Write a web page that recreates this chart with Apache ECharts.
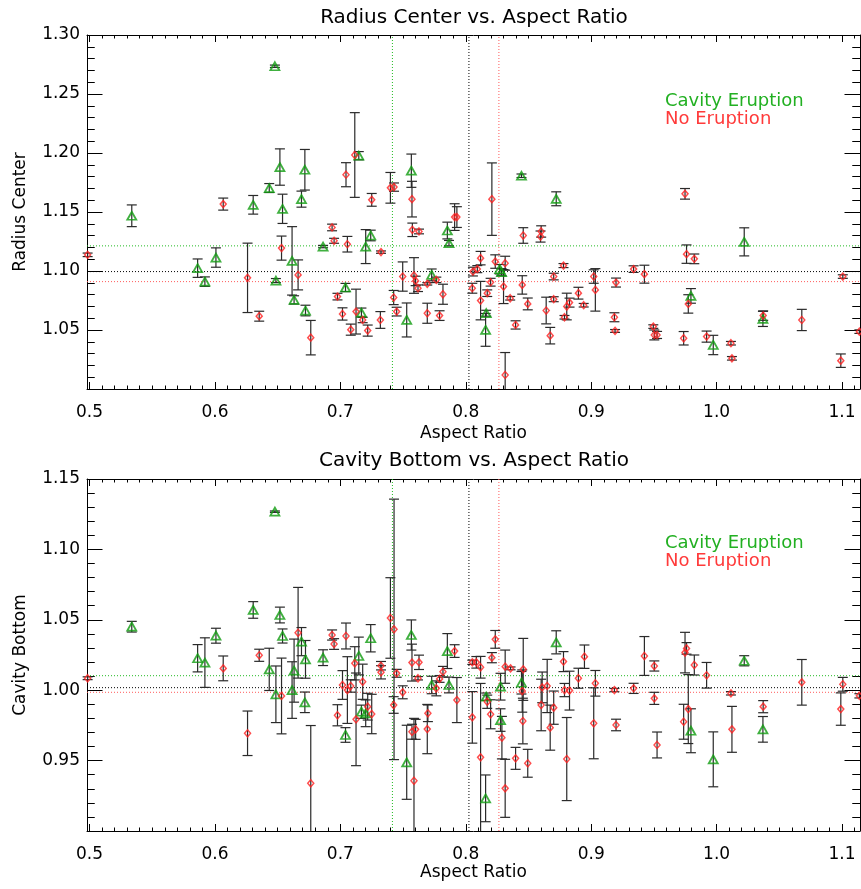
<!DOCTYPE html>
<html lang="en">
<head>
    <meta charset="UTF-8">
    <title>Radius Center / Cavity Bottom vs. Aspect Ratio</title>
    <script src="https://cdn.jsdelivr.net/npm/echarts@6/dist/echarts.min.js"></script>
    <style>
        html, body {margin: 0; padding: 0; background: #fff;}
        #chart {width: 861px; height: 889px;}
    </style>
</head>
<body>
<div id="chart"></div>
<script type="text/javascript">

    // axis ranges and tick labels
    var xRange = [0.498, 1.1143];
    var rcRange = [1.00, 1.30];
    var cbRange = [0.90, 1.15];
    var xTicks = [0.5, 0.6, 0.7, 0.8, 0.9, 1.0, 1.1];
    var rcTicks = [1.05, 1.10, 1.15, 1.20, 1.25, 1.30];
    var cbTicks = [0.95, 1.00, 1.05, 1.10, 1.15];

    // mean lines: [all, eruption, no eruption]
    var meanAspect = [0.8025, 0.7415, 0.8264];
    var meanRc = [1.0995, 1.1213, 1.0910];
    var meanCb = [1.0018, 1.0103, 0.9985];

    // [aspect ratio, radius center, error] - cavity eruption
    var rcErupt = [
        [0.5337, 1.1468, 0.0092], [0.5862, 1.1024, 0.0078], [0.5920, 1.0910, 0.0040], [0.6008, 1.1114, 0.0082],
        [0.6305, 1.1561, 0.0079], [0.6433, 1.1703, 0.0038], [0.6478, 1.2735, 0.0010], [0.6486, 1.0919, 0.0017],
        [0.6518, 1.1881, 0.0154], [0.6539, 1.1527, 0.0124], [0.6615, 1.1086, 0.0290], [0.6631, 1.0755, 0.0035],
        [0.6690, 1.1609, 0.0068], [0.6717, 1.1858, 0.0172], [0.6722, 1.0665, 0.0045], [0.6862, 1.1207, 0.0010],
        [0.7041, 1.0860, 0.0035], [0.7147, 1.1977, 0.0035], [0.7168, 1.0648, 0.0038], [0.7202, 1.1207, 0.0144],
        [0.7242, 1.1301, 0.0045], [0.7529, 1.0585, 0.0144], [0.7566, 1.1850, 0.0141], [0.7728, 1.0967, 0.0050],
        [0.7853, 1.1343, 0.0071], [0.7866, 1.1236, 0.0023], [0.8158, 1.0501, 0.0139], [0.8163, 1.0642, 0.0025],
        [0.8270, 1.1015, 0.0040], [0.8285, 1.0990, 0.0030], [0.8444, 1.1807, 0.0015], [0.8721, 1.1612, 0.0059],
        [0.9795, 1.0789, 0.0062], [0.9973, 1.0373, 0.0082], [1.0220, 1.1247, 0.0119], [1.0369, 1.0594, 0.0064]
    ];

    // [aspect ratio, radius center, error] - no eruption
    var rcQuiet = [
        [0.4985, 1.1137, 0.0015], [0.6066, 1.1567, 0.0051], [0.6260, 1.0942, 0.0294], [0.6353, 1.0617, 0.0042],
        [0.6531, 1.1194, 0.0102], [0.6663, 1.0967, 0.0127], [0.6764, 1.0435, 0.0146], [0.6934, 1.1369, 0.0028],
        [0.6950, 1.1256, 0.0021], [0.6977, 1.0783, 0.0028], [0.7017, 1.0636, 0.0052], [0.7045, 1.1816, 0.0102],
        [0.7056, 1.1227, 0.0066], [0.7083, 1.0503, 0.0047], [0.7115, 1.1983, 0.0359], [0.7125, 1.0656, 0.0190],
        [0.7178, 1.0585, 0.0023], [0.7218, 1.0495, 0.0047], [0.7250, 1.1603, 0.0054], [0.7319, 1.0585, 0.0071],
        [0.7324, 1.1160, 0.0010], [0.7399, 1.1705, 0.0130], [0.7425, 1.0775, 0.0060], [0.7428, 1.1711, 0.0035],
        [0.7449, 1.0656, 0.0037], [0.7497, 1.0953, 0.0124], [0.7571, 1.1609, 0.0151], [0.7574, 1.1349, 0.0057],
        [0.7587, 1.0962, 0.0151], [0.7600, 1.0916, 0.0040], [0.7619, 1.0854, 0.0028], [0.7627, 1.1335, 0.0020],
        [0.7693, 1.0642, 0.0085], [0.7693, 1.0891, 0.0010], [0.7765, 1.0925, 0.0023], [0.7791, 1.0622, 0.0041],
        [0.7818, 1.0803, 0.0085], [0.7911, 1.1457, 0.0113], [0.7929, 1.1457, 0.0088], [0.8052, 1.0854, 0.0042],
        [0.8057, 1.0995, 0.0037], [0.8092, 1.1016, 0.0030], [0.8118, 1.1109, 0.0057], [0.8118, 1.0749, 0.0163],
        [0.8171, 1.0812, 0.0028], [0.8198, 1.0905, 0.0033], [0.8208, 1.1609, 0.0307], [0.8235, 1.1080, 0.0057],
        [0.8301, 1.0868, 0.0144], [0.8314, 1.1066, 0.0059], [0.8314, 1.0119, 0.0190], [0.8354, 1.0769, 0.0015],
        [0.8397, 1.0543, 0.0035], [0.8450, 1.0882, 0.0078], [0.8458, 1.1301, 0.0066], [0.8494, 1.0721, 0.0050],
        [0.8596, 1.1292, 0.0047], [0.8601, 1.1335, 0.0048], [0.8641, 1.0665, 0.0113], [0.8673, 1.0452, 0.0070],
        [0.8701, 1.0953, 0.0028], [0.8701, 1.0761, 0.0021], [0.8779, 1.1046, 0.0017], [0.8787, 1.0608, 0.0015],
        [0.8805, 1.0699, 0.0113], [0.8827, 1.0732, 0.0038], [0.8898, 1.0812, 0.0050], [0.8940, 1.0710, 0.0015],
        [0.9020, 1.0953, 0.0057], [0.9033, 1.0840, 0.0180], [0.9185, 1.0608, 0.0038], [0.9190, 1.0492, 0.0012],
        [0.9198, 1.0902, 0.0038], [0.9338, 1.1016, 0.0028], [0.9424, 1.0973, 0.0076], [0.9495, 1.0529, 0.0015],
        [0.9503, 1.0458, 0.0042], [0.9525, 1.0458, 0.0030], [0.9737, 1.0430, 0.0057], [0.9748, 1.1654, 0.0045],
        [0.9760, 1.1143, 0.0078], [0.9774, 1.0721, 0.0078], [0.9822, 1.1103, 0.0041], [0.9920, 1.0444, 0.0047],
        [1.0114, 1.0388, 0.0015], [1.0122, 1.0260, 0.0015], [1.0371, 1.0622, 0.0040], [1.0679, 1.0585, 0.0090],
        [1.0990, 1.0240, 0.0057], [1.1006, 1.0953, 0.0015], [1.1138, 1.0486, 0.0015]
    ];

    // [aspect ratio, cavity bottom, error] - cavity eruption
    var cbErupt = [
        [0.5337, 1.0451, 0.0038], [0.5862, 1.0227, 0.0097], [0.5920, 1.0196, 0.0176], [0.6008, 1.0387, 0.0053],
        [0.6305, 1.0570, 0.0059], [0.6433, 1.0148, 0.0150], [0.6478, 1.1268, 0.0005], [0.6486, 0.9971, 0.0201],
        [0.6518, 1.0534, 0.0056], [0.6539, 1.0385, 0.0050], [0.6615, 1.0001, 0.0201], [0.6631, 1.0139, 0.0224],
        [0.6690, 1.0345, 0.0100], [0.6717, 0.9914, 0.0073], [0.6722, 1.0219, 0.0134], [0.6862, 1.0231, 0.0056],
        [0.7041, 0.9682, 0.0052], [0.7147, 1.0243, 0.0134], [0.7168, 0.9847, 0.0047], [0.7202, 0.9836, 0.0095],
        [0.7242, 1.0369, 0.0097], [0.7529, 0.9488, 0.0263], [0.7566, 1.0392, 0.0107], [0.7728, 1.0037, 0.0062],
        [0.7853, 1.0278, 0.0124], [0.7866, 1.0037, 0.0056], [0.8158, 0.9232, 0.0166], [0.8163, 0.9954, 0.0026],
        [0.8277, 1.0025, 0.0095], [0.8277, 0.9788, 0.0080], [0.8444, 1.0053, 0.0080], [0.8721, 1.0340, 0.0082],
        [0.9795, 0.9712, 0.0156], [0.9973, 0.9509, 0.0195], [1.0220, 1.0209, 0.0036], [1.0369, 0.9722, 0.0091]
    ];

    // [aspect ratio, cavity bottom, error] - no eruption
    var cbQuiet = [
        [0.4985, 1.0085, 0.0010], [0.6066, 1.0155, 0.0088], [0.6260, 0.9694, 0.0158], [0.6353, 1.0248, 0.0043],
        [0.6531, 0.9959, 0.0269], [0.6663, 1.0408, 0.0322], [0.6764, 0.9339, 0.0410], [0.6934, 1.0392, 0.0036],
        [0.6950, 1.0328, 0.0038], [0.6977, 0.9822, 0.0075], [0.7017, 1.0037, 0.0102], [0.7045, 1.0385, 0.0092],
        [0.7056, 1.0001, 0.0237], [0.7083, 1.0030, 0.0044], [0.7115, 1.0191, 0.0118], [0.7125, 0.9793, 0.0329],
        [0.7178, 1.0060, 0.0125], [0.7218, 0.9883, 0.0095], [0.7250, 0.9831, 0.0140], [0.7324, 1.0174, 0.0030],
        [0.7324, 1.0127, 0.0047], [0.7399, 1.0513, 0.0286], [0.7425, 0.9895, 0.0059], [0.7428, 1.0432, 0.0925],
        [0.7449, 1.0120, 0.0028], [0.7497, 0.9985, 0.0046], [0.7571, 1.0196, 0.0131], [0.7571, 0.9705, 0.0053],
        [0.7587, 0.9357, 0.0443], [0.7600, 0.9722, 0.0071], [0.7619, 1.0085, 0.0012], [0.7627, 1.0198, 0.0051],
        [0.7693, 0.9724, 0.0175], [0.7698, 0.9836, 0.0059], [0.7765, 1.0013, 0.0053], [0.7791, 1.0080, 0.0024],
        [0.7818, 1.0131, 0.0038], [0.7911, 1.0278, 0.0045], [0.7929, 0.9930, 0.0160], [0.8052, 1.0198, 0.0015],
        [0.8052, 0.9807, 0.0183], [0.8084, 1.0198, 0.0041], [0.8118, 1.0163, 0.0077], [0.8118, 0.9523, 0.0525],
        [0.8171, 0.9918, 0.0047], [0.8198, 0.9829, 0.0103], [0.8208, 1.0231, 0.0036], [0.8235, 1.0361, 0.0063],
        [0.8288, 0.9663, 0.0151], [0.8314, 1.0167, 0.0118], [0.8314, 0.9303, 0.0206], [0.8357, 1.0155, 0.0010],
        [0.8397, 0.9516, 0.0078], [0.8450, 0.9994, 0.0150], [0.8455, 0.9781, 0.0162], [0.8458, 1.0148, 0.0220],
        [0.8494, 0.9481, 0.0099], [0.8601, 0.9895, 0.0183], [0.8609, 1.0020, 0.0109], [0.8649, 1.0030, 0.0189],
        [0.8673, 0.9734, 0.0160], [0.8701, 0.9876, 0.0118], [0.8779, 1.0203, 0.0071], [0.8787, 1.0001, 0.0047],
        [0.8805, 0.9511, 0.0295], [0.8827, 0.9997, 0.0138], [0.8898, 1.0085, 0.0071], [0.8946, 1.0238, 0.0083],
        [0.9020, 0.9765, 0.0252], [0.9033, 1.0049, 0.0091], [0.9185, 1.0001, 0.0012], [0.9198, 0.9753, 0.0041],
        [0.9338, 1.0013, 0.0036], [0.9424, 1.0243, 0.0138], [0.9503, 1.0172, 0.0036], [0.9503, 0.9942, 0.0043],
        [0.9525, 0.9611, 0.0092], [0.9737, 0.9776, 0.0124], [0.9748, 1.0267, 0.0144], [0.9760, 1.0297, 0.0041],
        [0.9774, 0.9866, 0.0245], [0.9822, 1.0179, 0.0071], [0.9920, 1.0106, 0.0091], [1.0114, 0.9978, 0.0012],
        [1.0122, 0.9722, 0.0163], [1.0371, 0.9883, 0.0043], [1.0679, 1.0056, 0.0162], [1.0990, 0.9866, 0.0115],
        [1.1006, 1.0042, 0.0049], [1.1138, 0.9960, 0.0015]
    ];

    var FONT = '"DejaVu Sans", sans-serif';
    var GREEN = '#109c10', RED = '#ff2020';
    var LINE_COLORS = ['#000', '#22bb22', '#ff5a5a'];
    var LINE = {show: true, onZero: false, lineStyle: {color: '#000', width: 1}};

    // IDL style box: ticks on all four sides, pointing in, nice ticks + minor ticks
    function axis(grid, dim, pos, range, majorLen, minorSplit, labels, digits, name, nameGap) {
        var a = {
            type: 'value', gridIndex: grid, position: pos, min: range[0], max: range[1],
            splitLine: {show: false}, axisLine: LINE,
            axisTick: {show: true, inside: true, length: majorLen, lineStyle: {color: '#000'}},
            minorTick: {show: true, splitNumber: minorSplit, length: majorLen / 2, lineStyle: {color: '#000'}},
            axisLabel: {show: false}
        };
        if (labels) {
            a.axisLabel = {show: true, customValues: labels, fontSize: 17, fontFamily: FONT, color: '#000',
                margin: dim === 'x' ? 15 : 7,
                formatter: function (v) { return v.toFixed(digits); }};
            a.name = name;
            a.nameLocation = 'middle';
            a.nameGap = nameGap;
            a.nameTextStyle = {fontSize: 17, fontFamily: FONT, color: '#000'};
        }
        return a;
    }

    function errorBar(params, api) {
        var x = api.value(0), y = api.value(1), e = api.value(2);
        var hi = api.coord([x, y + e]), lo = api.coord([x, y - e]);
        var cs = params.coordSys, half = 5;
        var top = Math.max(hi[1], cs.y), bot = Math.min(lo[1], cs.y + cs.height);
        var st = {stroke: '#2a2a2a', lineWidth: 1.2};
        var kids = [{type: 'line', shape: {x1: hi[0], y1: top, x2: hi[0], y2: bot}, style: st}];
        if (hi[1] >= cs.y) kids.push({type: 'line', shape: {x1: hi[0] - half, y1: hi[1], x2: hi[0] + half, y2: hi[1]}, style: st});
        if (lo[1] <= cs.y + cs.height) kids.push({type: 'line', shape: {x1: lo[0] - half, y1: lo[1], x2: lo[0] + half, y2: lo[1]}, style: st});
        return {type: 'group', children: kids};
    }

    function panelSeries(xi, yi, yRange, meanY, erupt, quiet) {
        var out = [];
        var common = {xAxisIndex: xi, yAxisIndex: yi, silent: true, animation: false};
        // dotted mean lines
        for (var i = 0; i < 3; i++) {
            var ls = {type: [1, 2], width: 1, color: LINE_COLORS[i]};
            out.push(Object.assign({type: 'line', showSymbol: false, z: 1, lineStyle: ls,
                data: [[xRange[0], meanY[i]], [xRange[1], meanY[i]]]}, common));
            out.push(Object.assign({type: 'line', showSymbol: false, z: 1, lineStyle: ls,
                data: [[meanAspect[i], yRange[0]], [meanAspect[i], yRange[1]]]}, common));
        }
        [erupt, quiet].forEach(function (d) {
            out.push(Object.assign({type: 'custom', renderItem: errorBar, z: 2, data: d,
                encode: {x: 0, y: 1}}, common));
        });
        out.push(Object.assign({type: 'scatter', symbol: 'triangle', symbolSize: [9, 8], z: 3, data: erupt,
            itemStyle: {color: 'rgba(255,255,255,0)', borderColor: GREEN, borderWidth: 1.8}}, common));
        out.push(Object.assign({type: 'scatter', symbol: 'diamond', symbolSize: [6, 7], z: 4, data: quiet,
            itemStyle: {color: 'rgba(255,255,255,0)', borderColor: RED, borderWidth: 1.5}}, common));
        return out;
    }

    function label(text, x, y, size, color, align) {
        return {type: 'text', x: x, y: y, silent: true,
            style: {text: text, fontSize: size, fontFamily: FONT, fill: color, align: align, verticalAlign: 'middle'}};
    }

    var chart = echarts.init(document.getElementById('chart'));
    chart.setOption({
        backgroundColor: '#fff',
        animation: false,
        grid: [
            {left: 87, top: 35, width: 773, height: 354},
            {left: 87, top: 479, width: 773, height: 352}
        ],
        xAxis: [
            axis(0, 'x', 'bottom', xRange, 7, 10, xTicks, 1, 'Aspect Ratio', 36),
            axis(0, 'x', 'top', xRange, 7, 10),
            axis(1, 'x', 'bottom', xRange, 7, 10, xTicks, 1, 'Aspect Ratio', 31),
            axis(1, 'x', 'top', xRange, 7, 10)
        ],
        yAxis: [
            axis(0, 'y', 'left', rcRange, 15.5, 5, rcTicks, 2, 'Radius Center', 58),
            axis(0, 'y', 'right', rcRange, 15.5, 5),
            axis(1, 'y', 'left', cbRange, 15.5, 5, cbTicks, 2, 'Cavity Bottom', 58),
            axis(1, 'y', 'right', cbRange, 15.5, 5)
        ],
        graphic: [
            label('Radius Center vs. Aspect Ratio', 474, 18, 20, '#000', 'center'),
            label('Cavity Bottom vs. Aspect Ratio', 474, 461, 20, '#000', 'center'),
            label('Cavity Eruption', 665, 101, 18, '#22b022', 'left'),
            label('No Eruption', 665, 119, 18, '#ff3a3a', 'left'),
            label('Cavity Eruption', 665, 543, 18, '#22b022', 'left'),
            label('No Eruption', 665, 561, 18, '#ff3a3a', 'left')
        ],
        series: panelSeries(0, 0, rcRange, meanRc, rcErupt, rcQuiet)
            .concat(panelSeries(2, 2, cbRange, meanCb, cbErupt, cbQuiet))
    });
</script>
</body>
</html>
